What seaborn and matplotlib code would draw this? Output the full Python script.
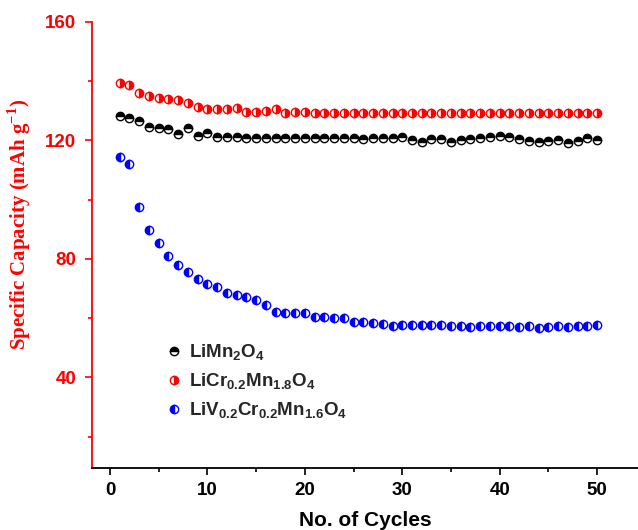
import numpy as np
import pandas as pd
import matplotlib
matplotlib.use("Agg")
import matplotlib.pyplot as plt
import seaborn as sns

cycles = list(range(1, 51))
limn2o4 = [128.2, 127.6, 126.6, 124.4, 124.2, 123.7, 122.0, 124.0, 121.5, 122.3,
           121.0, 121.0, 121.2, 120.6, 120.6, 120.6, 120.8, 120.8, 120.6, 120.6,
           120.6, 120.6, 120.6, 120.6, 120.6, 120.3, 120.6, 120.6, 120.6, 121.2,
           120.1, 119.5, 120.3, 120.3, 119.5, 120.1, 120.3, 120.9, 121.2, 121.4,
           121.2, 120.3, 119.7, 119.5, 119.7, 120.1, 119.2, 119.7, 120.6, 120.1]
licr = [139.2, 138.6, 136.1, 134.9, 134.4, 133.8, 133.6, 132.5, 131.3, 130.5,
        130.4, 130.4, 130.8, 129.6, 129.6, 130.0, 130.4, 129.3, 129.6, 129.6,
        129.3, 129.3, 129.3, 129.3, 129.3, 129.3, 129.3, 129.3, 129.3, 129.3,
        129.3, 129.3, 129.3, 129.3, 129.3, 129.3, 129.3, 129.3, 129.3, 129.3,
        129.3, 129.3, 129.3, 129.3, 129.3, 129.3, 129.3, 129.3, 129.3, 129.3]
livcr = [114.2, 111.9, 97.6, 89.7, 85.2, 81.1, 77.9, 75.7, 73.1, 71.5,
         70.6, 68.6, 67.8, 67.2, 66.1, 64.4, 62.2, 61.8, 61.8, 61.6,
         60.5, 60.3, 59.9, 59.9, 58.8, 58.6, 58.2, 58.0, 57.4, 57.7,
         57.7, 57.7, 57.7, 57.7, 57.4, 57.4, 57.1, 57.3, 57.4, 57.4,
         57.4, 57.1, 57.3, 56.8, 57.1, 57.4, 57.1, 57.4, 57.4, 57.7]

labels = [r'LiMn$_{\mathbf{2}}$O$_{\mathbf{4}}$',
          r'LiCr$_{\mathbf{0.2}}$Mn$_{\mathbf{1.8}}$O$_{\mathbf{4}}$',
          r'LiV$_{\mathbf{0.2}}$Cr$_{\mathbf{0.2}}$Mn$_{\mathbf{1.6}}$O$_{\mathbf{4}}$']
colors = ['black', 'red', 'blue']
fills = ['top', 'right', 'left']
xticks = [0, 10, 20, 30, 40, 50]
yticks = [40, 80, 120, 160]

sns.set_style("ticks")
plt.rcParams['font.family'] = ['Liberation Sans', 'DejaVu Sans']
plt.rcParams['mathtext.fontset'] = 'custom'
plt.rcParams['mathtext.bf'] = 'Liberation Sans:bold'
plt.rcParams['mathtext.rm'] = 'Liberation Sans:bold'
plt.rcParams['mathtext.sf'] = 'Liberation Serif:bold'

fig = plt.figure(figsize=(6.38, 5.30), dpi=100)
ax = fig.add_axes([91.7/638, (530-467.7)/530, (638-91.7)/638, (467.7-21.7)/530])

for vals, lab, col, fs in zip([limn2o4, licr, livcr], labels, colors, fills):
    df = pd.DataFrame({'cycle': cycles, 'cap': vals})
    sns.lineplot(data=df, x='cycle', y='cap', ax=ax, color=col, linestyle='',
                 marker='o', markersize=6, fillstyle=fs, markerfacecolor=col,
                 markerfacecoloralt='white', markeredgecolor=col,
                 markeredgewidth=1.0, label=lab, errorbar=None)

ax.set_xlim(-1.88, 54.2)
ax.set_ylim(9.5, 160)
ax.set_xticks(xticks)
ax.set_xticks([5, 15, 25, 35, 45], minor=True)
ax.set_yticks(yticks)
ax.set_yticks([20, 60, 100, 140], minor=True)
for s in ['top', 'right']:
    ax.spines[s].set_visible(False)
ax.spines['left'].set_color('red')
ax.spines['left'].set_linewidth(1.3)
ax.spines['bottom'].set_color('black')
ax.spines['bottom'].set_linewidth(1.3)
ax.tick_params(axis='y', which='both', colors='red', direction='out', width=1.2)
ax.tick_params(axis='y', which='major', length=5, labelsize=13.5, pad=6)
ax.tick_params(axis='y', which='minor', length=3)
ax.tick_params(axis='x', which='both', colors='black', direction='out', width=1.2)
ax.tick_params(axis='x', which='major', length=5, labelsize=13.5, pad=5)
ax.tick_params(axis='x', which='minor', length=3)
for t in ax.get_xticklabels() + ax.get_yticklabels():
    t.set_fontweight('bold')

ax.set_xlabel('No. of Cycles', fontsize=15, fontweight='bold', color='black')
ax.xaxis.set_label_coords(0.5, -0.097)
ax.set_ylabel(r'Specific Capacity (mAh g$^{\mathsf{-1}}$)', fontsize=15,
              fontweight='bold', color='red', family='Liberation Serif')
ax.yaxis.set_label_coords(-0.108, 0.545)

leg = ax.legend(loc='upper left', bbox_to_anchor=(0.1, 0.318), frameon=False,
                prop={'weight': 'bold', 'size': 13.5}, handletextpad=0.2,
                handlelength=1.2, labelspacing=0.47)

fig.savefig('out.png', dpi=100)
